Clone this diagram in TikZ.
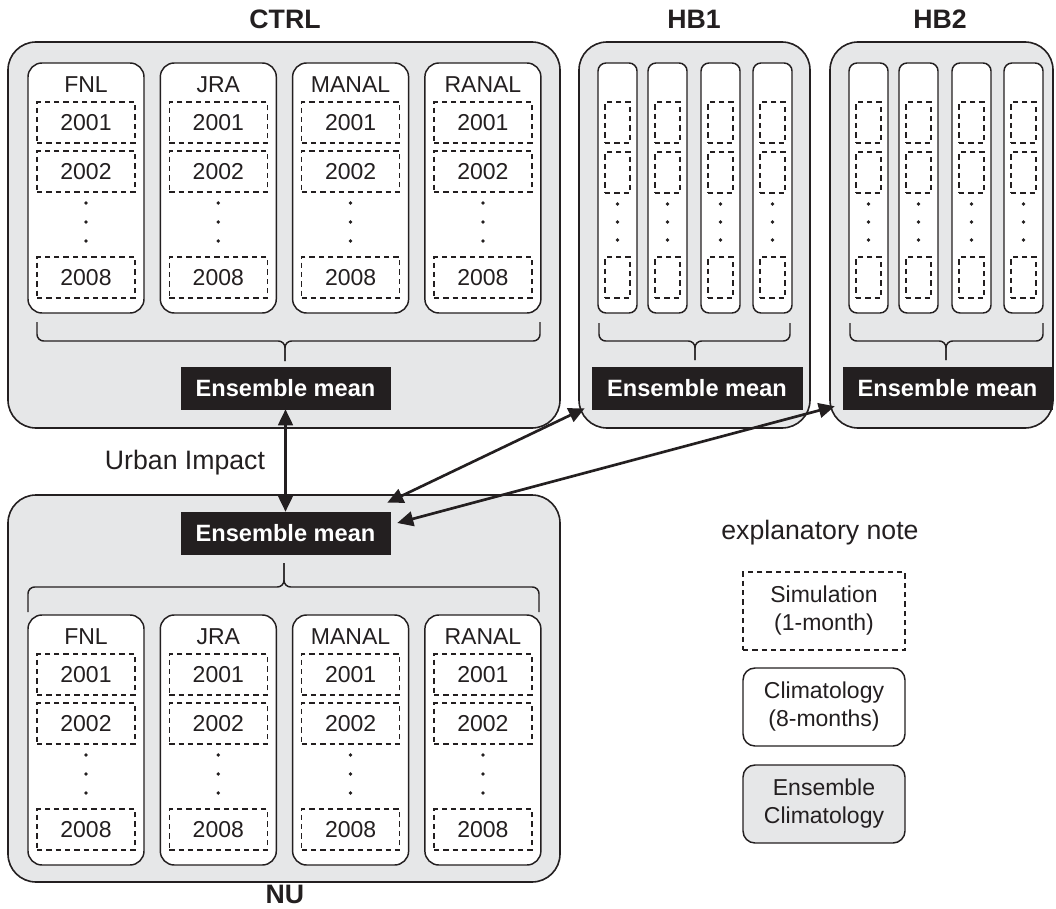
\documentclass[tikz,border=0pt]{standalone}
\usepackage{fontspec}
\setmainfont{Liberation Sans}
\usetikzlibrary{fit,arrows.meta,calc}
\definecolor{ink}{HTML}{231F20}
\definecolor{panel}{HTML}{E6E7E8}
\tikzset{
  panelbox/.style={draw=ink, line width=1.2pt, fill=panel, rounded corners=21pt, inner sep=0pt},
  colbox/.style={draw=ink, line width=1.1pt, fill=white, rounded corners=10.5pt, inner sep=0pt},
  thincol/.style={draw=ink, line width=1.1pt, fill=white, rounded corners=6pt, inner sep=0pt},
  simbox/.style={draw=ink, line width=1.1pt, dash pattern=on 4pt off 3pt, inner sep=0pt},
  yeartext/.style={font=\fontsize{17.25}{20}\selectfont, text=ink, inner sep=0pt},
  ensbox/.style={fill=ink, draw=ink, inner sep=0pt},
  enstext/.style={text=white, font=\bfseries\fontsize{17.7}{20}\selectfont, inner sep=0pt},
  coltitle/.style={font=\fontsize{17.25}{20}\selectfont, text=ink, inner sep=0pt},
  grouptitle/.style={font=\bfseries\fontsize{20}{24}\selectfont, text=ink, inner sep=0pt},
  plaintext/.style={font=\fontsize{20}{24}\selectfont, text=ink, inner sep=0pt},
  bracepath/.style={draw=ink, line width=1.1pt, rounded corners=5pt},
  dotmark/.style={circle, fill=ink, inner sep=0pt, minimum size=2.8pt},
  link/.style={draw=ink, line width=2pt,
     {Triangle[length=12pt,width=11pt]}-{Triangle[length=12pt,width=11pt]}},
  legtext/.style={align=center, font=\fontsize{17.25}{21}\selectfont, text=ink}
}
% reanalysis columns: #1 prefix, #2 vertical offset
\newcommand{\reancols}[2]{%
  \foreach \n [count=\i from 0] in {FNL,JRA,MANAL,RANAL}{
    \pgfmathsetmacro{\xa}{28+132.3*\i}
    \pgfmathsetmacro{\xb}{\xa+116}
    \pgfmathsetmacro{\xc}{\xa+58}
    \node[colbox, fit={(\xa,63+#2)(\xb,313+#2)}] (#1c\i) {};
    \node[coltitle] (#1t\i) at (\xc,85+#2) {\n};
    \node[simbox, fit={(\xa+9,102+#2)(\xa+107,143+#2)}, label={[yeartext]center:2001}] (#1ya\i) {};
    \node[simbox, fit={(\xa+9,151+#2)(\xa+107,192+#2)}, label={[yeartext]center:2002}] (#1yb\i) {};
    \node[simbox, fit={(\xa+9,257+#2)(\xa+107,298+#2)}, label={[yeartext]center:2008}] (#1yc\i) {};
    \node[dotmark] (#1da\i) at (\xc,203+#2) {};
    \node[dotmark] (#1db\i) at (\xc,222+#2) {};
    \node[dotmark] (#1dc\i) at (\xc,241+#2) {};
  }}
% thin columns: #1 prefix, #2 horizontal offset
\newcommand{\thincols}[2]{%
  \foreach \xo [count=\i from 0] in {0,50,103,155}{
    \pgfmathsetmacro{\xa}{598+\xo+#2}
    \pgfmathsetmacro{\xb}{\xa+39}
    \pgfmathsetmacro{\xc}{\xa+19.5}
    \node[thincol, fit={(\xa,63)(\xb,313)}] (#1c\i) {};
    \node[simbox, fit={(\xa+7,102)(\xa+32,143)}] (#1ya\i) {};
    \node[simbox, fit={(\xa+7,152)(\xa+32,193)}] (#1yb\i) {};
    \node[simbox, fit={(\xa+7,257)(\xa+32,298)}] (#1yc\i) {};
    \node[dotmark] (#1da\i) at (\xc,204) {};
    \node[dotmark] (#1db\i) at (\xc,222) {};
    \node[dotmark] (#1dc\i) at (\xc,240) {};
  }}
\begin{document}
\begin{tikzpicture}[x=0.75pt,y=-0.75pt]
\useasboundingbox (0,0) rectangle (1056,909);

% ---------- CTRL ----------
\node[grouptitle] (ctrltitle) at (285,19) {CTRL};
\node[panelbox, fit={(8,42)(560,428)}] (ctrl) {};
\reancols{ct}{0}
\draw[bracepath] (37,322) -- (37,341) -- (285,341) -- (285,361);
\draw[bracepath] (540,322) -- (540,341) -- (285,341) -- (285,361);
\node[ensbox, fit={(181,367)(390,409)}, label={[enstext]center:Ensemble mean}] (ctrlens) {};

% ---------- HB1 ----------
\node[grouptitle] (hb1title) at (694,19) {HB1};
\node[panelbox, fit={(579,42)(810,428)}] (hb1) {};
\thincols{ha}{0}
\draw[bracepath] (599,323) -- (599,341) -- (695,341) -- (695,360);
\draw[bracepath] (790,323) -- (790,341) -- (695,341) -- (695,360);
\node[ensbox, fit={(592,367)(802,409)}, label={[enstext]center:Ensemble mean}] (hb1ens) {};

% ---------- HB2 ----------
\node[grouptitle] (hb2title) at (940,19) {HB2};
\node[panelbox, fit={(830,42)(1053,428)}] (hb2) {};
\thincols{hb}{251}
\draw[bracepath] (850,323) -- (850,341) -- (946,341) -- (946,360);
\draw[bracepath] (1043,323) -- (1043,341) -- (946,341) -- (946,360);
\node[ensbox, fit={(843,367)(1052,409)}, label={[enstext]center:Ensemble mean}] (hb2ens) {};

% ---------- NU ----------
\node[panelbox, fit={(8,495)(560,882)}] (nu) {};
\node[ensbox, fit={(181,512)(390,554)}, label={[enstext]center:Ensemble mean}] (nuens) {};
\draw[bracepath] (28,612) -- (28,587) -- (284,587) -- (284,563);
\draw[bracepath] (539,612) -- (539,587) -- (284,587) -- (284,563);
\reancols{nu}{552}
\node[grouptitle] (nutitle) at (285,894) {NU};

% ---------- connectors ----------
\node[plaintext] (urban) at (185,463) {Urban Impact};
\draw[link] (ctrlens.south) -- (nuens.north);
\draw[link] ([shift={(-3,-9)}]nuens.north east) -- ([shift={(-7,-1)}]hb1ens.south west);
\draw[link] ([shift={(7,-10)}]nuens.east) -- ([shift={(-8,-3)}]hb2ens.south west);

% ---------- legend ----------
\node[plaintext] (legtitle) at (820,533) {explanatory note};
\node[simbox, fit={(743,572)(905,650)}] (legsim) {};
\node[legtext] (legsimt) at (legsim.center) {Simulation\\(1-month)};
\node[colbox, rounded corners=9pt, fit={(743,668)(905,746)}] (legclim) {};
\node[legtext] (legclimt) at (legclim.center) {Climatology\\(8-months)};
\node[colbox, rounded corners=9pt, fill=panel, fit={(743,765)(905,843)}] (legens) {};
\node[legtext] (legenst) at (legens.center) {Ensemble\\Climatology};
\end{tikzpicture}
\end{document}
